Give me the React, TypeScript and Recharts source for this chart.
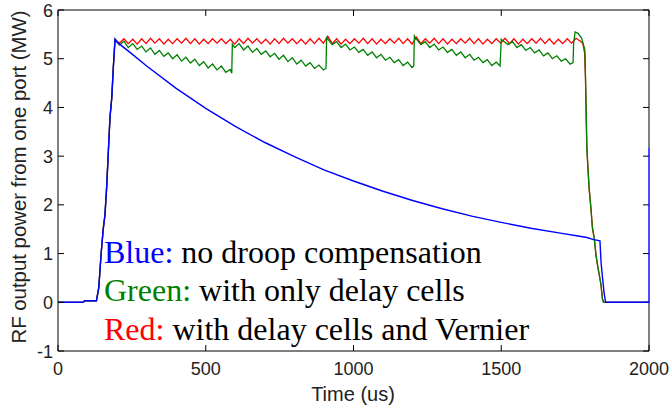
import { Line, LineChart, ReferenceLine, XAxis, YAxis } from "recharts";

type Pt = [number, number];

// leading edge shared by all three pulses (time in us, power in MW)
const riseEdge: Pt[] = [
  [0, 0], [85, 0], [90, 0.03], [130, 0.03], [138, 0.3], [146, 1.0], [153, 1.5],
  [159, 1.8], [165, 2.4], [170, 3.05], [176, 3.8], [182, 4.2], [187, 4.8], [193, 5.4],
];

// uncompensated pulse: droops through the flat top
const blueDecay: Pt[] = [
  [200, 5.34], [250, 5.1], [300, 4.85], [400, 4.39], [500, 3.98], [600, 3.61],
  [700, 3.28], [800, 2.99], [900, 2.72], [1000, 2.49], [1100, 2.28], [1200, 2.09],
  [1300, 1.92], [1400, 1.77], [1500, 1.64], [1600, 1.52], [1700, 1.42], [1760, 1.36],
  [1790, 1.33], [1810, 1.29], [1834, 1.26],
];

const blueTail: Pt[] = [
  [1838, 0.8], [1842, 0.55], [1848, 0.2], [1853, 0], [2000, 0], [2000, 3.17],
];

// delay cells + Vernier: flat top with small ripple
const redFlat: Pt[] = [
  [208, 5.32], [223, 5.41], [238, 5.31], [253, 5.4], [268, 5.3], [283, 5.41], [298, 5.31],
  [313, 5.42], [328, 5.32], [343, 5.41], [358, 5.3], [373, 5.4], [388, 5.31], [403, 5.41],
  [418, 5.32], [433, 5.42], [448, 5.31], [463, 5.41], [478, 5.3], [493, 5.4], [508, 5.31],
  [523, 5.41], [538, 5.32], [553, 5.41], [568, 5.31], [583, 5.4], [598, 5.3], [613, 5.41],
  [628, 5.31], [643, 5.42], [658, 5.32], [673, 5.41], [688, 5.31], [703, 5.4], [718, 5.3],
  [733, 5.41], [748, 5.31], [763, 5.42], [778, 5.32], [793, 5.41], [808, 5.31], [823, 5.4],
  [838, 5.3], [853, 5.41], [868, 5.31], [883, 5.42], [898, 5.32], [913, 5.46], [928, 5.31],
  [943, 5.41], [958, 5.3], [973, 5.4], [988, 5.31], [1003, 5.41], [1018, 5.32], [1033, 5.42],
  [1048, 5.31], [1063, 5.41], [1078, 5.3], [1093, 5.4], [1108, 5.31], [1123, 5.41], [1138, 5.32],
  [1153, 5.42], [1168, 5.31], [1183, 5.41], [1198, 5.3], [1213, 5.44], [1228, 5.31], [1243, 5.41],
  [1258, 5.32], [1273, 5.42], [1288, 5.31], [1303, 5.41], [1318, 5.3], [1333, 5.4], [1348, 5.31],
  [1363, 5.41], [1378, 5.32], [1393, 5.42], [1408, 5.31], [1423, 5.41], [1438, 5.3], [1453, 5.4],
  [1468, 5.31], [1483, 5.41], [1498, 5.32], [1513, 5.42], [1528, 5.31], [1543, 5.41], [1558, 5.3],
  [1573, 5.4], [1588, 5.31], [1603, 5.41], [1618, 5.32], [1633, 5.42], [1648, 5.31], [1663, 5.41],
  [1678, 5.3], [1693, 5.4], [1708, 5.31], [1723, 5.41], [1738, 5.32], [1753, 5.42], [1768, 5.36],
];

const redFall: Pt[] = [
  [1776, 5.32], [1782, 5.12], [1785, 4.6], [1789, 3.3], [1793, 2.8], [1798, 2.3], [1804, 1.9],
  [1809, 1.5], [1815, 1.3], [1821, 0.95], [1826, 0.75], [1832, 0.55], [1838, 0.33], [1843, 0.05],
  [1847, 0], [2000, 0],
];

// delay cells only: ripple riding on a sawtooth, one step per cell
const greenSteps: Pt[] = [
  [208, 5.28], [223, 5.36], [238, 5.23], [253, 5.31], [268, 5.19], [283, 5.26], [298, 5.14],
  [313, 5.22], [328, 5.09], [343, 5.17], [358, 5.05], [373, 5.12], [388, 5.0], [403, 5.08],
  [418, 4.95], [433, 5.03], [448, 4.91], [463, 4.99], [478, 4.86], [493, 4.94], [508, 4.81],
  [523, 4.89], [538, 4.77], [553, 4.85], [568, 4.72], [583, 4.78], [588, 4.7], [590, 5.3],
  [598, 5.23], [613, 5.31], [628, 5.18], [643, 5.26], [658, 5.13], [673, 5.21], [688, 5.09],
  [703, 5.16], [718, 5.04], [733, 5.11], [748, 4.99], [763, 5.07], [778, 4.94], [793, 5.02],
  [808, 4.89], [823, 4.97], [838, 4.85], [853, 4.92], [868, 4.8], [883, 4.87], [898, 4.77],
  [907, 4.8], [909, 5.45],
  [913, 5.4], [928, 5.29], [943, 5.35], [958, 5.23], [973, 5.3], [988, 5.18], [1003, 5.24],
  [1018, 5.13], [1033, 5.19], [1048, 5.07], [1063, 5.14], [1078, 5.02], [1093, 5.09], [1108, 4.97],
  [1123, 5.03], [1138, 4.92], [1153, 4.98], [1168, 4.86], [1183, 4.93], [1198, 4.82], [1204, 4.85],
  [1206, 5.47],
  [1213, 5.4], [1228, 5.29], [1243, 5.35], [1258, 5.23], [1273, 5.3], [1288, 5.18], [1303, 5.24],
  [1318, 5.13], [1333, 5.19], [1348, 5.07], [1363, 5.14], [1378, 5.02], [1393, 5.09], [1408, 4.97],
  [1423, 5.03], [1438, 4.92], [1453, 4.98], [1468, 4.86], [1483, 4.93], [1496, 4.85], [1500, 5.4],
  [1508, 5.36], [1523, 5.29], [1538, 5.35], [1553, 5.23], [1568, 5.29], [1583, 5.17], [1598, 5.23],
  [1613, 5.12], [1628, 5.18], [1643, 5.06], [1658, 5.12], [1673, 5.0], [1688, 5.06], [1703, 4.95],
  [1718, 5.0], [1733, 4.89], [1743, 4.92], [1745, 5.32], [1750, 5.55], [1760, 5.52], [1772, 5.42],
  [1783, 5.18],
];

const greenFall: Pt[] = [
  [1786, 4.4], [1790, 3.1], [1792, 2.9], [1797, 2.37], [1803, 1.96], [1808, 1.55], [1814, 1.35],
  [1820, 1.0], [1825, 0.8], [1831, 0.59], [1837, 0.39], [1842, 0.08], [1846, 0], [2000, 0],
];

const X_MIN = 0;
const X_MAX = 2000;
const Y_MIN = -1;
const Y_MAX = 6;
const xTicks = [0, 500, 1000, 1500, 2000];
const yTicks = [-1, 0, 1, 2, 3, 4, 5, 6];

const toRows = (...parts: Pt[][]) => parts.flat().map(([t, v]) => ({ t, v }));

const blueData = toRows(riseEdge, blueDecay, blueTail);
const redData = toRows(riseEdge, redFlat, redFall);
const greenData = toRows(riseEdge, greenSteps, greenFall);

// plot box in px, used to turn the 6px inward tick length into data units
const W = 671;
const H = 407;
const MARGIN = { top: 10, right: 22, bottom: 0, left: 0 };
const Y_AXIS_W = 58;
const X_AXIS_H = 56;
const PLOT_W = W - MARGIN.right - Y_AXIS_W;
const PLOT_H = H - MARGIN.top - X_AXIS_H;
const TICK = 6;
const tickDx = (TICK * (X_MAX - X_MIN)) / PLOT_W;
const tickDy = (TICK * (Y_MAX - Y_MIN)) / PLOT_H;

// the blue trace runs up the right edge at t = 2000, keep the border off it
const edgeTop = blueTail[blueTail.length - 1][1];

const SANS = "'Liberation Sans', Arial, sans-serif";
const SERIF = "'Liberation Serif', 'Times New Roman', serif";

const BottomTick = ({ x, y, payload }: any) => (
  <g>
    <line x1={x} x2={x} y1={y} y2={y - TICK} stroke="#000" />
    <text x={x} y={y + 24} textAnchor="middle" fontSize={18} fontFamily={SANS} fill="#222">
      {payload.value}
    </text>
  </g>
);

const LeftTick = ({ x, y, payload }: any) => (
  <g>
    <line x1={x} x2={x + TICK} y1={y} y2={y} stroke="#000" />
    <text x={x - 5} y={y + 6.5} textAnchor="end" fontSize={18} fontFamily={SANS} fill="#222">
      {payload.value}
    </text>
  </g>
);

const frame = { stroke: "#000", strokeWidth: 1 };

export default function App() {
  return (
    <div style={{ position: "absolute", left: 0, top: 0, width: W, height: H, background: "#fff" }}>
      <LineChart width={W} height={H} margin={MARGIN}>
        <XAxis
          dataKey="t"
          type="number"
          domain={[X_MIN, X_MAX]}
          ticks={xTicks}
          interval={0}
          height={X_AXIS_H}
          tickSize={0}
          tickMargin={0}
          tickLine={false}
          axisLine={frame}
          tick={<BottomTick />}
        />
        <YAxis
          type="number"
          domain={[Y_MIN, Y_MAX]}
          ticks={yTicks}
          interval={0}
          width={Y_AXIS_W}
          tickSize={0}
          tickMargin={0}
          tickLine={false}
          axisLine={frame}
          tick={<LeftTick />}
        />
        {/* top and right sides of the box, with inward ticks */}
        <ReferenceLine y={Y_MAX} stroke="#000" strokeWidth={1} />
        <ReferenceLine segment={[{ x: X_MAX, y: Y_MIN }, { x: X_MAX, y: 0 }]} stroke="#000" strokeWidth={1} />
        <ReferenceLine segment={[{ x: X_MAX, y: edgeTop }, { x: X_MAX, y: Y_MAX }]} stroke="#000" strokeWidth={1} />
        {xTicks.map((t) => (
          <ReferenceLine key={`tx${t}`} segment={[{ x: t, y: Y_MAX }, { x: t, y: Y_MAX - tickDy }]}
            stroke="#000" strokeWidth={1} />
        ))}
        {yTicks.map((v) => (
          <ReferenceLine key={`ty${v}`} segment={[{ x: X_MAX, y: v }, { x: X_MAX - tickDx, y: v }]}
            stroke="#000" strokeWidth={1} />
        ))}
        <Line data={redData} dataKey="v" type="linear" stroke="#ff0000"
          strokeWidth={1.3} dot={false} isAnimationActive={false} />
        <Line data={greenData} dataKey="v" type="linear" stroke="#008000"
          strokeWidth={1.3} dot={false} isAnimationActive={false} />
        <Line data={blueData} dataKey="v" type="linear" stroke="#0000ff"
          strokeWidth={1.4} dot={false} isAnimationActive={false} />
      </LineChart>
      <svg width={W} height={H} style={{ position: "absolute", left: 0, top: 0, pointerEvents: "none" }}>
        <text x={353} y={401} textAnchor="middle" fontSize={20} fontFamily={SANS} fill="#222">
          Time (us)
        </text>
        <text x={26} y={177} textAnchor="middle" fontSize={20.4} fontFamily={SANS} fill="#222"
          transform="rotate(-90 26 177)">
          RF output power from one port (MW)
        </text>
        <g fontFamily={SERIF} fontSize={32}>
          <text x={104} y={263}>
            <tspan fill="#0000ff">Blue:</tspan>
            <tspan fill="#000"> no droop compensation</tspan>
          </text>
          <text x={104} y={301}>
            <tspan fill="#008000">Green:</tspan>
            <tspan fill="#000"> with only delay cells</tspan>
          </text>
          <text x={104} y={340}>
            <tspan fill="#ff0000">Red:</tspan>
            <tspan fill="#000"> with delay cells and Vernier</tspan>
          </text>
        </g>
      </svg>
    </div>
  );
}
